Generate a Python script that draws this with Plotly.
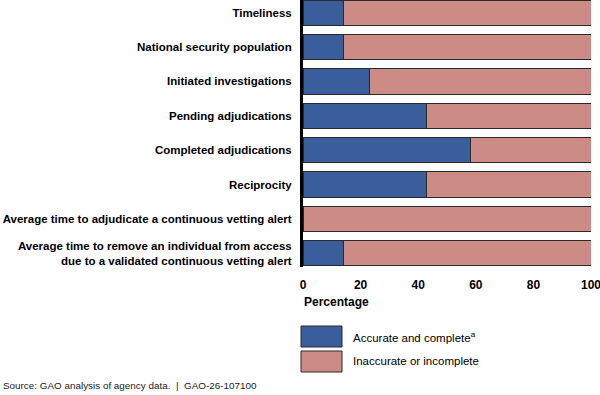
import plotly.graph_objects as go

categories = [
    "Timeliness",
    "National security population",
    "Initiated investigations",
    "Pending adjudications",
    "Completed adjudications",
    "Reciprocity",
    "Average time to adjudicate a continuous vetting alert",
    "Average time to remove an individual from access<br>due to a validated continuous vetting alert",
]
accurate = [14, 14, 23, 43, 58, 43, 0, 14]
inaccurate = [100 - v for v in accurate]
series_names = ["Accurate and complete<sup>a</sup>", "Inaccurate or incomplete"]
colors = ["#3A5E9C", "#CD8B85"]
x_ticks = [0, 20, 40, 60, 80, 100]

W, H = 600, 395
L, R, T = 303, 9, 0
PLOT_BOTTOM = 267
B = H - PLOT_BOTTOM
PH = PLOT_BOTTOM - T
PW = W - L - R

def px_x(x):
    return (x - L) / PW

def px_y(y):
    return (PLOT_BOTTOM - y) / PH

FONT = "Liberation Sans, Arial, sans-serif"

fig = go.Figure()
for name, vals, col in zip(series_names, [accurate, inaccurate], colors):
    fig.add_trace(go.Bar(
        y=categories, x=vals, orientation="h", name=name,
        marker=dict(color=col, line=dict(color="#2a2a2a", width=1)),
        width=0.74, showlegend=False, hoverinfo="skip",
    ))

fig.update_layout(
    width=W, height=H,
    margin=dict(l=L, r=R, t=T, b=B, pad=0, autoexpand=False),
    barmode="stack",
    plot_bgcolor="white", paper_bgcolor="white",
    xaxis=dict(range=[0, 100], tickvals=x_ticks, showgrid=False, zeroline=False,
               showline=False, ticks="", ticklabelstandoff=9, automargin=False,
               ticklabeloverflow="allow",
               tickfont=dict(family=FONT, size=12, color="black", weight="bold")),
    yaxis=dict(categoryorder="array", categoryarray=categories,
               range=[7.4, -0.37], showgrid=False, zeroline=False,
               showline=True, linecolor="black", linewidth=3, ticks="",
               ticklabelstandoff=6, automargin=False, ticklabeloverflow="allow",
               tickfont=dict(family=FONT, size=11.5, color="black", weight="bold")),
)

annotations = [
    dict(text="Percentage", x=px_x(302), y=px_y(302), xref="paper", yref="paper",
         xanchor="left", yanchor="middle", showarrow=False,
         font=dict(family=FONT, size=12, color="black", weight="bold")),
    dict(text="Source: GAO analysis of agency data.  |  GAO-26-107100",
         x=px_x(1), y=px_y(385), xref="paper", yref="paper",
         xanchor="left", yanchor="middle", showarrow=False,
         font=dict(family=FONT, size=9.9, color="#222")),
]
shapes = []
box_tops = [326, 351]
for name, col, top in zip(series_names, colors, box_tops):
    shapes.append(dict(type="rect", xref="paper", yref="paper",
                       x0=px_x(301), x1=px_x(342), y0=px_y(top + 21), y1=px_y(top),
                       fillcolor=col, line=dict(color="#2a2a2a", width=1)))
    annotations.append(dict(text=name, x=px_x(351), y=px_y(top + 10.5),
                            xref="paper", yref="paper", xanchor="left", yanchor="middle",
                            showarrow=False,
                            font=dict(family=FONT, size=11.5, color="black")))
fig.update_layout(annotations=annotations, shapes=shapes)

fig.write_html("out.html", config={"displayModeBar": False},
               post_script="document.body.style.margin='0';document.body.style.overflow='hidden';")
